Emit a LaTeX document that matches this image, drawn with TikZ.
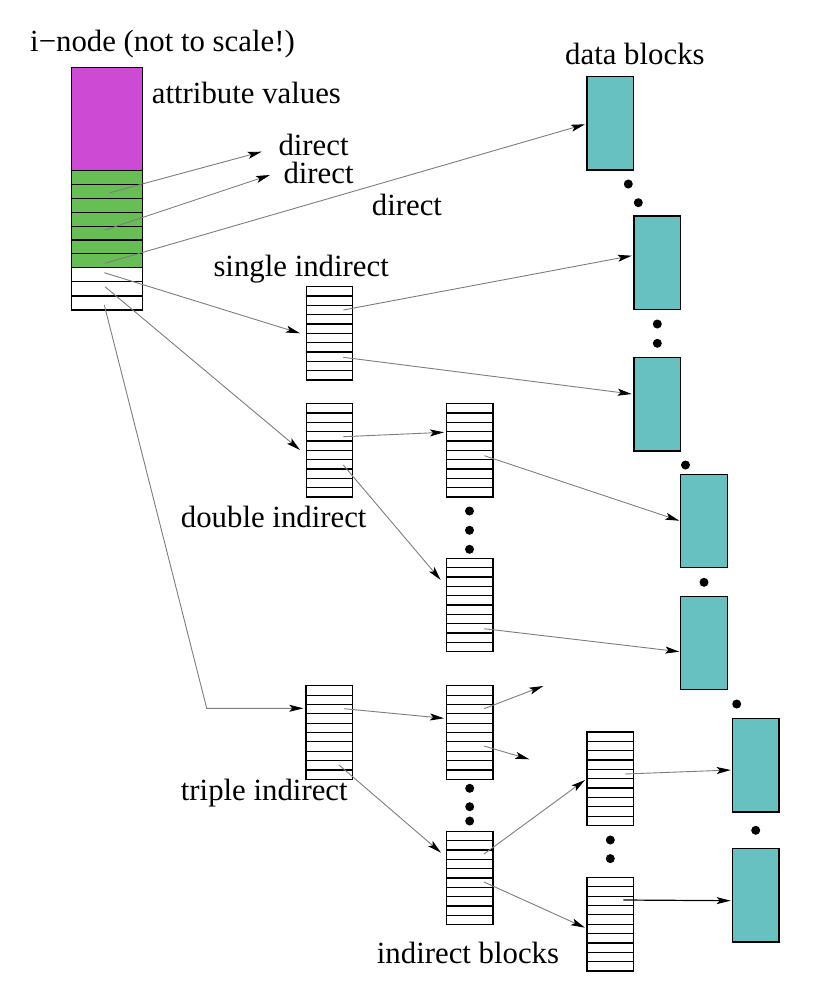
\documentclass[tikz,border=0pt]{standalone}
\usepackage{fontspec}
\setmainfont{Liberation Serif}
\usetikzlibrary{arrows.meta,calc}
\definecolor{attrc}{RGB}{204,74,212}
\definecolor{greenc}{RGB}{102,190,85}
\definecolor{tealc}{RGB}{103,193,193}
\definecolor{linec}{RGB}{125,125,125}
\tikzset{
  blk/.style={draw, line width=1.2pt, inner sep=0pt, minimum width=46.5pt, minimum height=93.5pt},
  datablk/.style={blk, fill=tealc},
  striped/.style={path picture={
    \foreach \i in {1,...,#1}{
      \pgfmathsetmacro{\fr}{\i/(#1+1)}
      \draw[line width=1.2pt] ($(path picture bounding box.north west)!\fr!(path picture bounding box.south west)$) -- ($(path picture bounding box.north east)!\fr!(path picture bounding box.south east)$);
    }}},
  indblk/.style={blk, striped=9},
  inodepart/.style={draw, line width=1.2pt, inner sep=0pt, minimum width=70.6pt},
  lbl/.style={anchor=base west, inner sep=0pt, font=\fontsize{30.8}{36}\selectfont},
  dot/.style={circle, fill=black, inner sep=0pt, minimum size=9pt},
  arr/.style={draw=linec, line width=0.9pt, -{Stealth[length=14pt,width=7pt,inset=3pt,color=black]}},
  arrb/.style={arr, draw=black, line width=1.2pt}
}
\begin{document}
\begin{tikzpicture}[x=1pt,y=-1pt]
\useasboundingbox (0,0) rectangle (818,998);

% i-node
\node[inodepart, fill=attrc, minimum height=103.4pt] (attr) at (107,119) {};
\node[inodepart, fill=greenc, minimum height=97pt, striped=6] (dir) at (107,219.2) {};
\node[inodepart, fill=white, minimum height=42.3pt, striped=2] (ind) at (107,288.85) {};

% indirect blocks
\node[indblk] (S)  at (329.5,333.3) {};
\node[indblk] (D1) at (329.5,450.3) {};
\node[indblk] (D2) at (469.7,450.3) {};
\node[indblk] (D3) at (469.7,605) {};
\node[indblk] (T1) at (329.2,732.5) {};
\node[indblk] (T2) at (469.7,732.5) {};
\node[indblk] (T3) at (469.7,878) {};
\node[indblk] (T4) at (610.2,778.7) {};
\node[indblk] (T5) at (610.2,924.2) {};

% data blocks
\node[datablk] (B1) at (610.3,123.3) {};
\node[datablk] (B2) at (657.2,262.7) {};
\node[datablk] (B3) at (657.2,404.2) {};
\node[datablk] (B4) at (704,521) {};
\node[datablk] (B5) at (704,643) {};
\node[datablk] (B6) at (755.7,765.2) {};
\node[datablk] (B7) at (755.7,895.3) {};

% dots
\node[dot] (d1) at (628.3,184) {};
\node[dot] (d2) at (638.3,202.7) {};
\node[dot] (d3) at (657.3,324) {};
\node[dot] (d4) at (657.3,343.3) {};
\node[dot] (d5) at (685.5,465) {};
\node[dot] (d6) at (704,582.3) {};
\node[dot] (d7) at (736.7,704) {};
\node[dot] (d8) at (755.7,830.3) {};
\node[dot] (d9) at (469.5,511) {};
\node[dot] (d10) at (469.5,530.3) {};
\node[dot] (d11) at (469.5,549.3) {};
\node[dot] (d12) at (469.7,788.3) {};
\node[dot] (d13) at (469.7,806.7) {};
\node[dot] (d14) at (469.7,821) {};
\node[dot] (d15) at (610.3,840) {};
\node[dot] (d16) at (610.3,858.6) {};

% labels
\node[lbl] (tinode) at (30,51.7) {i−node (not to scale!)};
\node[lbl] (tattr) at (151.7,103.3) {attribute values};
\node[lbl] (tdir1) at (278.3,155) {direct};
\node[lbl] (tdir2) at (283.3,183.3) {direct};
\node[lbl] (tdir3) at (371.7,215) {direct};
\node[lbl] (tsingle) at (213.3,276.7) {single indirect};
\node[lbl] (tdouble) at (180.7,527.7) {double indirect};
\node[lbl] (ttriple) at (180.7,800) {triple indirect};
\node[lbl] (tindb) at (376.7,963.3) {indirect blocks};
\node[lbl] (tdata) at (565,65) {data blocks};

% connector end points
\coordinate (p1) at (110,192.7);   \coordinate (q1) at (261.7,151.7);
\coordinate (p2) at (105,230);     \coordinate (q2) at (270,175);
\coordinate (p3) at (105,263.3);   \coordinate (q3) at (585,124.3);
\coordinate (p4) at (104.3,272.7); \coordinate (q4) at (300,333.3);
\coordinate (p5) at (105,286.7);   \coordinate (q5) at (300,450);
\coordinate (p6) at (104.3,305);   \coordinate (m6) at (206.7,708.3); \coordinate (q6) at (303.3,708.3);
\coordinate (p7) at (343.3,310);   \coordinate (q7) at (631.7,255.7);
\coordinate (p8) at (343.3,357.3); \coordinate (q8) at (631.7,394);
\coordinate (p9) at (343.3,436.7); \coordinate (q9) at (444,432.3);
\coordinate (p10) at (343.3,465);  \coordinate (q10) at (440.7,580);
\coordinate (p11) at (484.3,455.7);\coordinate (q11) at (679.3,520.7);
\coordinate (p12) at (484.3,628.7);\coordinate (q12) at (679.3,651.7);
\coordinate (p13) at (344,708.7);  \coordinate (q13) at (444,718.3);
\coordinate (p14) at (339,765);    \coordinate (q14) at (441,852.7);
\coordinate (p15) at (484,708.7);  \coordinate (q15) at (543.3,686);
\coordinate (p16) at (484,746);    \coordinate (q16) at (529.3,759.3);
\coordinate (p17) at (484,854);    \coordinate (q17) at (585,780);
\coordinate (p18) at (484,882);    \coordinate (q18) at (585,927.7);
\coordinate (p19) at (625,774);    \coordinate (q19) at (730.7,770);
\coordinate (p20) at (623.3,900);  \coordinate (q20) at (730.7,900.7);

% connectors
\draw[arr] (p1) -- (q1);
\draw[arr] (p2) -- (q2);
\draw[arr] (p3) -- (q3);
\draw[arr] (p4) -- (q4);
\draw[arr] (p5) -- (q5);
\draw[arr] (p6) -- (m6) -- (q6);
\draw[arr] (p7) -- (q7);
\draw[arr] (p8) -- (q8);
\draw[arr] (p9) -- (q9);
\draw[arr] (p10) -- (q10);
\draw[arr] (p11) -- (q11);
\draw[arr] (p12) -- (q12);
\draw[arr] (p13) -- (q13);
\draw[arr] (p14) -- (q14);
\draw[arr] (p15) -- (q15);
\draw[arr] (p16) -- (q16);
\draw[arr] (p17) -- (q17);
\draw[arr] (p18) -- (q18);
\draw[arr] (p19) -- (q19);
\draw[arrb] (p20) -- (q20);
\end{tikzpicture}
\end{document}
